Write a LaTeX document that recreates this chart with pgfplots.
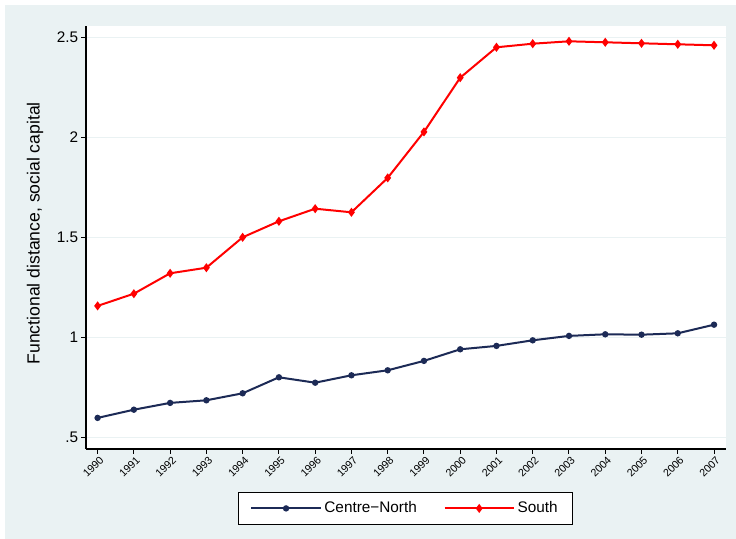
\documentclass[border=0pt]{standalone}
\usepackage{fontspec}
\setmainfont{Liberation Sans}
\usepackage{pgfplots}
\pgfplotsset{compat=1.18}
\definecolor{bg}{RGB}{234,242,243}
\definecolor{navy}{RGB}{28,42,86}
\definecolor{sred}{RGB}{255,0,0}
\begin{document}
\begin{tikzpicture}
\fill[white] (0,0) rectangle (552pt,404.25pt);
\fill[bg] (3.75pt,0) rectangle (552pt,400.5pt);
\begin{axis}[
  at={(64.5pt,67.5pt)}, anchor=south west,
  scale only axis, width=480pt, height=317.25pt,
  xmin=1989.68, xmax=2007.33,
  ymin=0.4415, ymax=2.5565,
  axis background/.style={fill=white},
  axis x line*=bottom, axis y line*=left,
  axis line style={-, black, line width=0.8pt},
  tick align=outside,
  major tick length=3.75pt,
  tick style={black, line width=0.75pt},
  xtick={1990,1991,1992,1993,1994,1995,1996,1997,1998,1999,2000,2001,2002,2003,2004,2005,2006,2007},
  xticklabels={1990,1991,1992,1993,1994,1995,1996,1997,1998,1999,2000,2001,2002,2003,2004,2005,2006,2007},
  xticklabel style={rotate=45, anchor=east, font=\fontsize{8}{9}\selectfont, inner sep=1pt, yshift=-4.5pt, xshift=1pt},
  ytick={0.5,1,1.5,2,2.5},
  yticklabels={.5,1,1.5,2,2.5},
  yticklabel style={font=\fontsize{11.5}{13}\selectfont, inner sep=2pt},
  ymajorgrids,
  grid style={bg, line width=1.1pt},
  ylabel={Functional distance, social capital},
  ylabel style={at={(axis description cs:-0.0797,0.51)}, anchor=center, font=\fontsize{13.2}{15}\selectfont},
  legend style={at={(0.499,-0.1017)}, anchor=north, draw=black, line width=0.75pt, fill=white,
    legend columns=2, font=\fontsize{11.5}{13}\selectfont, inner xsep=9pt, inner ysep=5pt,
    /tikz/every even column/.append style={column sep=18pt}},
  legend cell align=left,
  legend image code/.code={\draw[mark repeat=2, mark phase=2, #1] plot coordinates {(0pt,0pt) (26pt,0pt) (52pt,0pt)};},
]
\addplot[navy, line width=1.5pt, mark=*, mark size=1.6pt, mark options={solid}] coordinates {
(1990,0.597) (1991,0.638) (1992,0.672) (1993,0.685) (1994,0.720) (1995,0.800)
(1996,0.773) (1997,0.810) (1998,0.835) (1999,0.882) (2000,0.940) (2001,0.957)
(2002,0.985) (2003,1.007) (2004,1.015) (2005,1.013) (2006,1.020) (2007,1.063)};
\addlegendentry{Centre−North}
\addplot[sred, line width=1.5pt, mark=diamond*, mark size=2.2pt, mark options={solid}] coordinates {
(1990,1.157) (1991,1.218) (1992,1.320) (1993,1.348) (1994,1.500) (1995,1.580)
(1996,1.643) (1997,1.625) (1998,1.797) (1999,2.027) (2000,2.298) (2001,2.450)
(2002,2.468) (2003,2.480) (2004,2.475) (2005,2.470) (2006,2.465) (2007,2.460)};
\addlegendentry{South}
\end{axis}
\end{tikzpicture}
\end{document}
